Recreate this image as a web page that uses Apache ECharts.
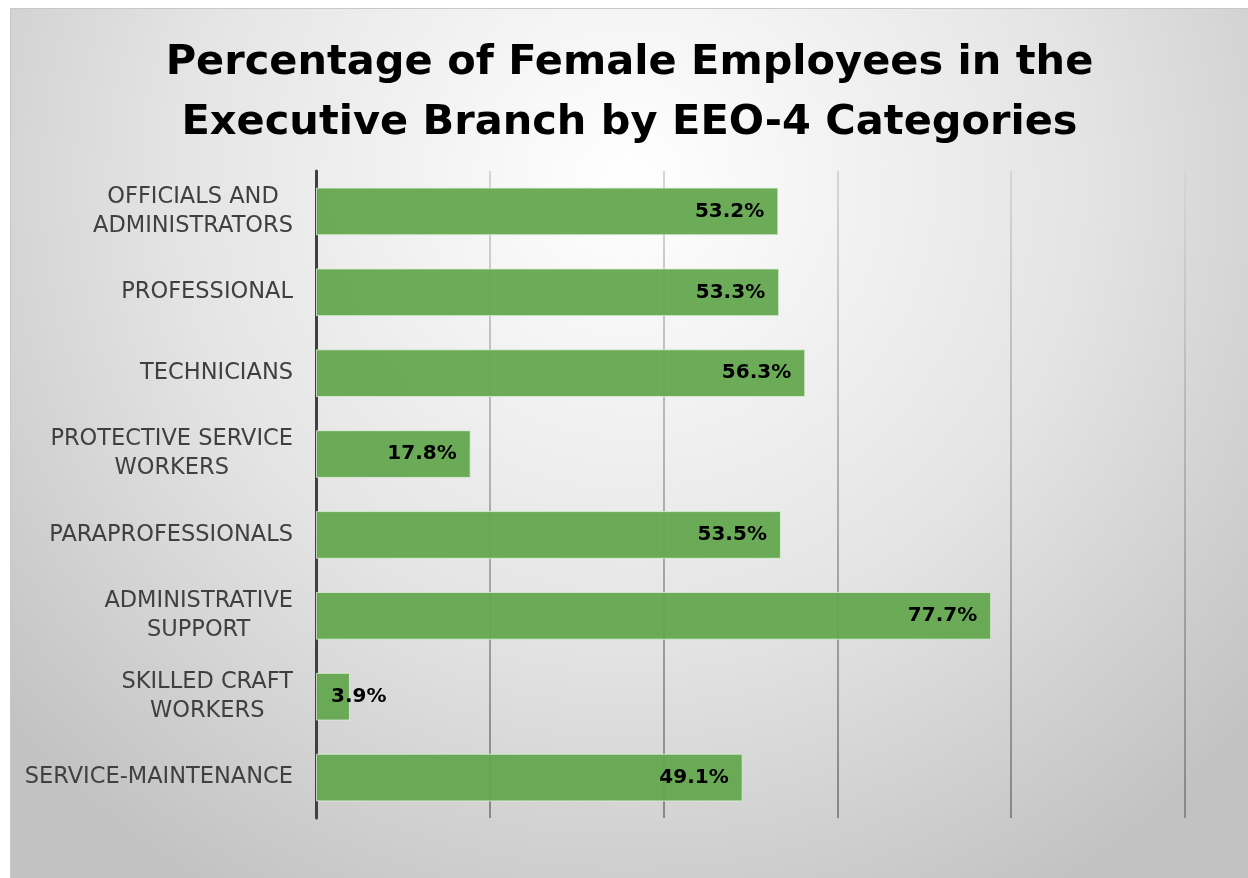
<!DOCTYPE html>
<html>
<head>
<meta charset="utf-8">
<script src="https://cdn.jsdelivr.net/npm/echarts@6/dist/echarts.min.js"></script>
<style>
html,body{margin:0;padding:0;background:#fff;width:1248px;height:878px;overflow:hidden;}
#chart{position:absolute;left:10px;top:8px;width:1238px;height:870px;box-sizing:border-box;border-top:1px solid #c8c8c8;border-left:1px solid #c8c8c8;}
</style>
</head>
<body>
<div id="chart"></div>
<script>
const titleLines = ['Percentage of Female Employees in the', 'Executive Branch by EEO-4 Categories'];
const categories = ['OFFICIALS AND\nADMINISTRATORS', 'PROFESSIONAL', 'TECHNICIANS', 'PROTECTIVE SERVICE\nWORKERS', 'PARAPROFESSIONALS', 'ADMINISTRATIVE\nSUPPORT', 'SKILLED CRAFT\nWORKERS', 'SERVICE-MAINTENANCE'];
const values = [53.2, 53.3, 56.3, 17.8, 53.5, 77.7, 3.9, 49.1];
const xTicks = [0, 20, 40, 60, 80, 100];

const chart = echarts.init(document.getElementById('chart'), null, {renderer: 'canvas'});
const fontFamily = '"DejaVu Sans", sans-serif';

const barData = values.map(v => {
  const item = {value: v};
  if (v < 10) {
    item.label = {position: 'insideLeft', distance: 15};
  }
  return item;
});

chart.setOption({
  backgroundColor: {
    type: 'radial', x: 0.5, y: 0.2, r: 0.95,
    colorStops: [
      {offset: 0, color: '#ffffff'},
      {offset: 0.55, color: '#e4e4e4'},
      {offset: 1, color: '#c2c2c2'}
    ]
  },
  title: {
    text: titleLines.join('\n'),
    left: 'center',
    top: 19,
    textStyle: {fontFamily: fontFamily, fontWeight: 'bold', fontSize: 41.5, lineHeight: 60, color: '#000'}
  },
  grid: {left: 305, right: 63, top: 162, bottom: 60, containLabel: false},
  xAxis: {
    type: 'value', min: xTicks[0], max: xTicks[xTicks.length - 1], interval: 20,
    axisLabel: {show: false}, axisTick: {show: false}, axisLine: {show: false},
    splitLine: {show: true, lineStyle: {width: 2, color: {
      type: 'linear', x: 0, y: 0, x2: 0, y2: 1,
      colorStops: [{offset: 0, color: '#d6d6d6'}, {offset: 1, color: '#878787'}]
    }}}
  },
  yAxis: {
    type: 'category', inverse: true, data: categories,
    axisLine: {show: true, lineStyle: {color: '#404040', width: 3}},
    axisTick: {show: false},
    axisLabel: {
      margin: 23, color: '#404040', fontFamily: fontFamily, fontSize: 22.5, lineHeight: 29,
      formatter: v => v.split('\n').map(l => '{c|' + l + '}').join('\n'),
      rich: {c: {align: 'center', color: '#404040', fontFamily: fontFamily, fontSize: 22.5, lineHeight: 29}}
    }
  },
  series: [{
    type: 'bar', data: barData, barWidth: '59%',
    itemStyle: {color: 'rgba(100,167,79,0.95)', borderColor: 'rgba(225,240,220,0.8)', borderWidth: 1},
    label: {
      show: true, position: 'insideRight', distance: 14,
      formatter: p => p.value.toFixed(1) + '%',
      color: '#000', fontFamily: fontFamily, fontWeight: 'bold', fontSize: 20
    }
  }]
});
</script>
</body>
</html>
